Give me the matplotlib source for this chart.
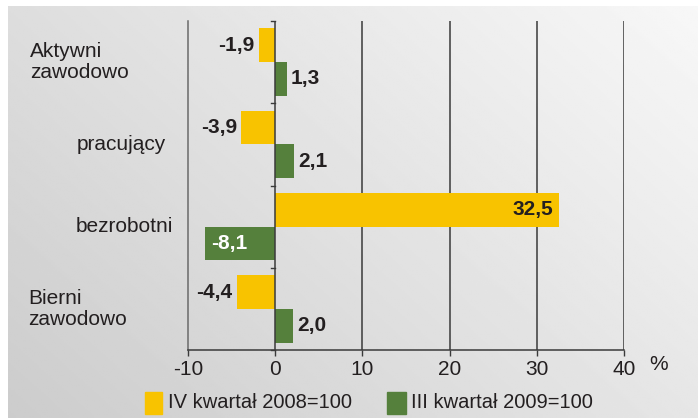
import matplotlib
matplotlib.use("Agg")
import matplotlib.pyplot as plt
import numpy as np
from matplotlib.patches import Rectangle

categories = ["Aktywni\nzawodowo", "pracujący", "bezrobotni", "Bierni\nzawodowo"]
series_names = ["IV kwartał 2008=100", "III kwartał 2009=100"]
vals_2008 = [-1.9, -3.9, 32.5, -4.4]
vals_2009 = [1.3, 2.1, -8.1, 2.0]
xticks = [-10, 0, 10, 20, 30, 40]

YELLOW = "#f8c300"
GREEN = "#55803c"
TXT = "#231f20"
plt.rcParams['font.family'] = ['Liberation Sans', 'DejaVu Sans']

fig = plt.figure(figsize=(6.98, 4.18), dpi=100)
fig.patch.set_facecolor("white")

# gradient background panel
bg = fig.add_axes([8/698, 0, 1 - 8/698, 1 - 6/418], zorder=-10)
yy, xx = np.mgrid[0:1:200j, 0:1:300j]
g = 0.80 + 0.17 * (0.6 * xx + 0.4 * yy)
bg.imshow(g, cmap="gray", vmin=0, vmax=1, aspect="auto", origin="lower",
          extent=[0, 1, 0, 1])
bg.set_axis_off()

ax = fig.add_axes([188/698, 1 - 350/418, (624 - 188)/698, (350 - 21)/418])
ax.patch.set_alpha(0)
n = len(categories)
pos = np.arange(n)
h = 0.41
ax.barh(pos - h/2, vals_2008, height=h, color=YELLOW, zorder=3)
ax.barh(pos + h/2, vals_2009, height=h, color=GREEN, zorder=3)
ax.set_xlim(-10, 40)
ax.set_ylim(n - 0.5, -0.5)

for x in [10, 20, 30, 40]:
    ax.axvline(x, color="#3a3a3a", lw=1.1, zorder=1)
ax.axvline(0, color="#3a3a3a", lw=1.1, zorder=4)
for yb in np.arange(-0.5, n, 1.0)[1:]:
    ax.plot([-0.5, 0], [yb, yb], color="#3a3a3a", lw=1, zorder=4, clip_on=False)
ax.plot([-0.5, 0], [-0.5, -0.5], color="#3a3a3a", lw=1, zorder=4, clip_on=False)

for s in ["top", "right"]:
    ax.spines[s].set_visible(False)
ax.spines["left"].set_color("#6a6a6a")
ax.spines["bottom"].set_color("#3a3a3a")
ax.spines["left"].set_linewidth(1.1)
ax.spines["bottom"].set_linewidth(1.1)
ax.set_yticks([])
ax.set_xticks(xticks)
ax.set_xticklabels([str(t) for t in xticks])
ax.tick_params(axis="x", length=4, width=1, color="#3a3a3a", labelsize=15,
               labelcolor=TXT, pad=3)
ax.text(44.0, n - 0.5 + 0.06, "%", ha="center", va="top", fontsize=15, color=TXT,
        transform=ax.transData, clip_on=False)

# value labels
fs = 15
for i, (a, b) in enumerate(zip(vals_2008, vals_2009)):
    for v, yoff in [(a, -h/2), (b, h/2)]:
        y = i + yoff
        lab = f"{v:.1f}".replace(".", ",")
        if v >= 30:
            ax.text(v - 0.6, y, lab, ha="right", va="center", fontsize=fs,
                    fontweight="bold", color=TXT, zorder=5)
        elif v <= -6:
            ax.text(v + 0.8, y, lab, ha="left", va="center", fontsize=fs,
                    fontweight="bold", color="white", zorder=5)
        elif v < 0:
            ax.text(v - 0.5, y, lab, ha="right", va="center", fontsize=fs,
                    fontweight="bold", color=TXT, zorder=5)
        else:
            ax.text(v + 0.5, y, lab, ha="left", va="center", fontsize=fs,
                    fontweight="bold", color=TXT, zorder=5)

# category labels
cat_pos = [(30, "left"), (166, "right"), (173, "right"), (28, "left")]
for i, (cat, (px, al)) in enumerate(zip(categories, cat_pos)):
    xf = (px - 188) / (624 - 188)
    ax.text(xf, i, cat, transform=ax.get_yaxis_transform(), ha=al, va="center",
            fontsize=15, color=TXT, linespacing=1.15, multialignment="left")

# legend
fig.patches.append(Rectangle((145/698, 1 - 414/418), 17/698, 22/418,
                             transform=fig.transFigure, color=YELLOW))
fig.text(168/698, 1 - 403/418, series_names[0], ha="left", va="center",
         fontsize=14.5, color=TXT)
fig.patches.append(Rectangle((387/698, 1 - 414/418), 19/698, 22/418,
                             transform=fig.transFigure, color=GREEN))
fig.text(411/698, 1 - 403/418, series_names[1], ha="left", va="center",
         fontsize=14.5, color=TXT)

fig.savefig("out.png", dpi=100)
